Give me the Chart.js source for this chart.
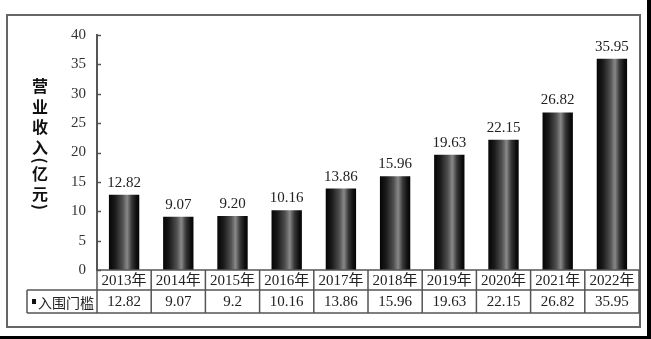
<!DOCTYPE html>
<html>
<head>
<meta charset="utf-8">
<script src="https://cdn.jsdelivr.net/npm/chart.js@4.4.1/dist/chart.umd.min.js"></script>
<style>
  html, body { margin: 0; padding: 0; background: #fff; }
  #wrap { width: 651px; height: 339px; position: relative; }
</style>
</head>
<body>
<div id="wrap"><canvas id="mycanvas"></canvas></div>
<script>
// data
var years = ['2013年', '2014年', '2015年', '2016年', '2017年', '2018年', '2019年', '2020年', '2021年', '2022年'];
var revenue = [12.82, 9.07, 9.20, 10.16, 13.86, 15.96, 19.63, 22.15, 26.82, 35.95];
var tableValues = ['12.82', '9.07', '9.2', '10.16', '13.86', '15.96', '19.63', '22.15', '26.82', '35.95'];
var yTicks = [0, 5, 10, 15, 20, 25, 30, 35, 40];
var seriesName = '入围门槛';
var yTitle = '营业收入(亿元)';

var serif = "'Liberation Serif', 'Noto Sans CJK SC', serif";
var sans = "'Noto Sans CJK SC', sans-serif";

function barFill(ctx) {
  var chart = ctx.chart;
  if (!chart.chartArea) return '#222';
  var x = chart.scales.x;
  var cx = x.getPixelForValue(ctx.dataIndex);
  var half = x.width / years.length * 0.56 / 2;
  var g = chart.ctx.createLinearGradient(cx - half, 0, cx + half, 0);
  g.addColorStop(0, '#050505');
  g.addColorStop(0.2, '#1a1a1a');
  g.addColorStop(0.45, '#505050');
  g.addColorStop(0.6, '#888');
  g.addColorStop(0.75, '#383838');
  g.addColorStop(0.9, '#111');
  g.addColorStop(1, '#030303');
  return g;
}

var frame = {
  id: 'frame',
  beforeDraw: function(chart) {
    var c = chart.ctx;
    c.save();
    c.fillStyle = '#fff';
    c.fillRect(0, 0, chart.width, chart.height);
    c.fillStyle = '#000';
    c.fillRect(647, 0, 4, 339);
    c.fillRect(0, 336, 651, 3);
    c.strokeStyle = '#666';
    c.lineWidth = 2;
    c.strokeRect(7, 15, 633, 312);
    c.restore();
  }
};

var extras = {
  id: 'extras',
  afterDraw: function(chart) {
    var c = chart.ctx;
    var x = chart.scales.x, y = chart.scales.y;
    var meta = chart.getDatasetMeta(0);
    c.save();

    // small ticks inside the y axis
    c.strokeStyle = '#555';
    c.lineWidth = 1.5;
    yTicks.forEach(function(v) {
      var py = Math.round(y.getPixelForValue(v)) + 0.5;
      c.beginPath();
      c.moveTo(x.left, py);
      c.lineTo(x.left + 4, py);
      c.stroke();
    });

    // values above bars
    c.fillStyle = '#222';
    c.font = '15px ' + serif;
    c.textAlign = 'center';
    c.textBaseline = 'middle';
    meta.data.forEach(function(bar, i) {
      c.fillText(revenue[i].toFixed(2), bar.x, bar.y - 12);
    });

    // data table
    var w = x.width / years.length;
    var r0 = 270, r1 = 290, r2 = 313, tl = 27;
    c.strokeStyle = '#555';
    c.lineWidth = 1.5;
    c.beginPath();
    c.moveTo(x.left, r0); c.lineTo(x.right, r0);
    c.moveTo(tl, r1); c.lineTo(x.right, r1);
    c.moveTo(tl, r2); c.lineTo(x.right, r2);
    c.moveTo(tl, r1); c.lineTo(tl, r2);
    for (var i = 0; i <= years.length; i++) {
      var px = x.left + i * w;
      c.moveTo(px, r0); c.lineTo(px, r2);
    }
    c.stroke();

    c.fillStyle = '#222';
    c.font = '15px ' + serif;
    years.forEach(function(t, i) {
      c.fillText(t, x.left + (i + 0.5) * w, (r0 + r1) / 2 + 1);
    });
    tableValues.forEach(function(t, i) {
      c.fillText(t, x.left + (i + 0.5) * w, (r1 + r2) / 2 + 1);
    });

    c.fillStyle = '#111';
    c.fillRect(32, 299, 4, 5);
    c.textAlign = 'left';
    c.font = '14px ' + sans;
    c.fillStyle = '#222';
    c.fillText(seriesName, 38, (r1 + r2) / 2 + 1);

    // vertical axis title
    c.fillStyle = '#111';
    c.font = 'bold 16px ' + sans;
    c.textAlign = 'center';
    var py = 86, prevParen = false;
    Array.from(yTitle).forEach(function(ch, i) {
      var paren = ch === '(' || ch === ')';
      if (i > 0) py += (paren || prevParen) ? 13 : 20.5;
      if (paren) {
        c.save();
        c.translate(40, py);
        c.rotate(Math.PI / 2);
        c.fillText(ch, 0, 0);
        c.restore();
      } else {
        c.fillText(ch, 40, py);
      }
      prevParen = paren;
    });
    c.restore();
  }
};

var ctx = document.getElementById('mycanvas');
var chart = new Chart(ctx, {
  type: 'bar',
  data: {
    labels: years,
    datasets: [{
      label: seriesName,
      data: revenue,
      backgroundColor: barFill,
      borderWidth: 0,
      categoryPercentage: 1,
      barPercentage: 0.56
    }]
  },
  options: {
    responsive: true,
    maintainAspectRatio: false,
    animation: false,
    layout: { padding: { top: 35, right: 12, left: 0, bottom: 0 } },
    plugins: {
      legend: { display: false },
      tooltip: { enabled: false }
    },
    scales: {
      x: {
        grid: { display: false },
        border: { display: false },
        ticks: { display: false },
        afterFit: function(s) { s.height = 69; }
      },
      y: {
        min: 0,
        max: 40,
        grid: { display: false, drawTicks: false },
        border: { display: true, color: '#555', width: 2 },
        ticks: {
          stepSize: 5,
          color: '#333',
          font: { family: serif, size: 15 },
          padding: 11
        },
        afterFit: function(s) { s.width = 97; }
      }
    }
  },
  plugins: [frame, extras]
});
</script>
</body>
</html>
